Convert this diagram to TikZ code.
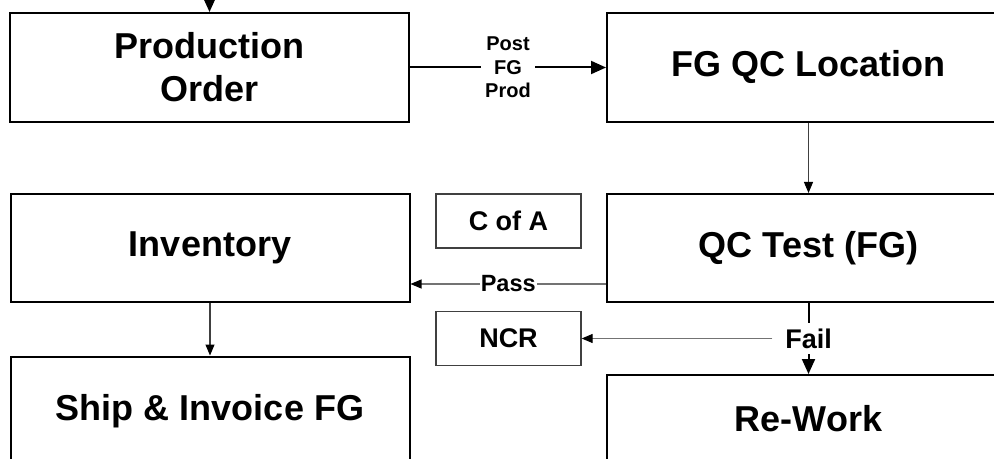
\documentclass[tikz,border=0pt]{standalone}
\usepackage{fontspec}
\setmainfont{Liberation Sans}
\usepackage{xcolor}
\usetikzlibrary{arrows.meta}
\definecolor{flowgray}{gray}{0.25}
\definecolor{sidegray}{gray}{0.45}

\begin{document}
\begin{tikzpicture}[x=0.5pt, y=-0.5pt]
\tikzstyle{procbox}=[draw, line width=1pt, inner sep=0pt, minimum width=199.5pt, minimum height=54.5pt, align=center, font=\fontsize{18}{21.5}\selectfont\bfseries]
\tikzstyle{notebox}=[draw=flowgray, line width=0.65pt, inner sep=0pt, minimum width=72.5pt, minimum height=27pt, font=\fontsize{13.5}{16}\selectfont\bfseries]
\tikzstyle{bigflow}=[line width=1pt, -{Triangle[length=7.5pt, width=6.5pt]}]
\tikzstyle{smallflow}=[line width=0.55pt, -{Triangle[length=5.5pt, width=4.5pt, color=black]}]
\clip (0,0) rectangle (994,459);

\node[procbox] (po) at (209.5,67.5) {Production\\Order};
\node[procbox, minimum width=201.5pt] (fgqc) at (808.5,67.5) {FG QC Location};
\node[procbox, minimum height=54pt] (inv) at (210,248) {Inventory};
\node[procbox, minimum width=201.5pt, minimum height=54pt] (qct) at (808.5,248) {QC Test (FG)};
\node[procbox] (ship) at (210,411) {Ship \& Invoice FG};
\node[procbox, minimum width=201.5pt, minimum height=44pt] (rework) at (808.5,419) {Re-Work};
\node[notebox] (coa) at (508.5,221) {C of A};
\node[notebox] (ncr) at (508.5,338.5) {NCR};

\coordinate (in) at (209.5,-30);
\path (qct.west) ++(0,36) coordinate (passout);

\path
(in) edge[bigflow] (po)
(po) edge[bigflow] node[fill=white, inner sep=2pt, align=center, font=\fontsize{10}{11.8}\selectfont\bfseries] (post) {Post\\FG\\Prod} (fgqc)
(fgqc) edge[smallflow, draw=flowgray] (qct)
(passout) edge[smallflow, draw=sidegray] node[fill=white, inner sep=0.5pt, font=\fontsize{11.75}{14}\selectfont\bfseries] (pass) {Pass} (inv.east |- passout)
(qct) edge[bigflow] node[fill=white, inner xsep=6pt, inner ysep=3pt, font=\fontsize{13.5}{16}\selectfont\bfseries] (fail) {Fail} (rework)
(fail) edge[smallflow, draw=sidegray] (ncr)
(inv) edge[smallflow, draw=flowgray] (ship);

\end{tikzpicture}
\end{document}
